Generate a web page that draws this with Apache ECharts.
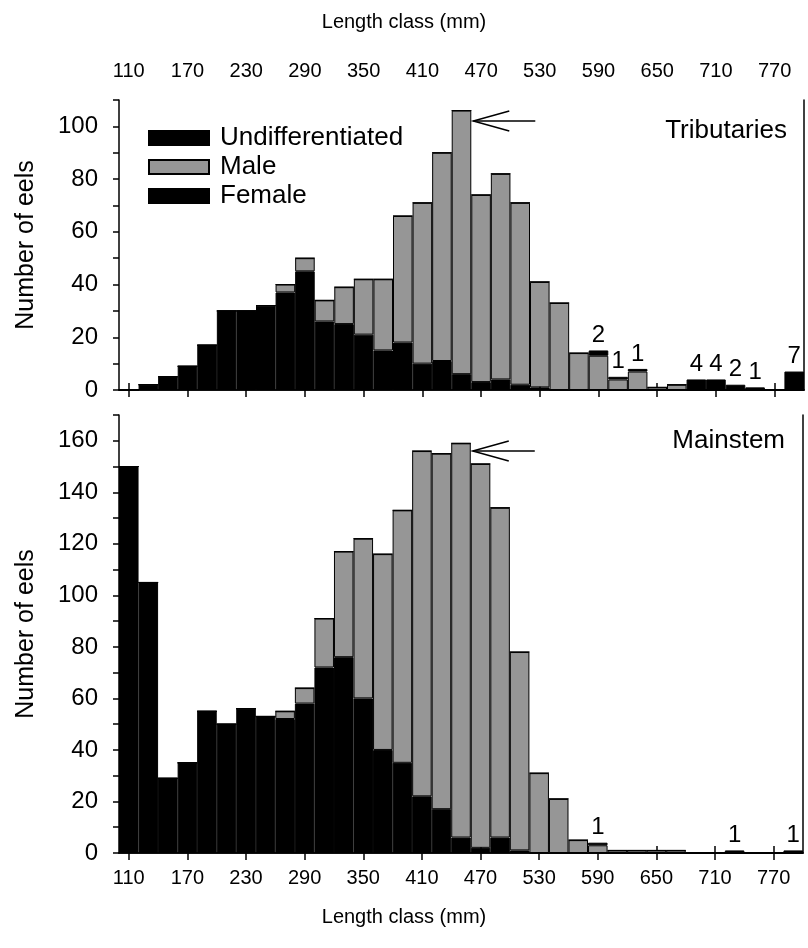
<!DOCTYPE html>
<html>
<head>
<meta charset="utf-8">
<script src="https://cdn.jsdelivr.net/npm/echarts@6/dist/echarts.min.js"></script>
<style>html,body{margin:0;padding:0;background:#fff}#c{width:808px;height:948px}</style>
</head>
<body>
<div id="c"></div>
<script>
const lengthClasses = ['110','130','150','170','190','210','230','250','270','290','310','330','350','370','390','410','430','450','470','490','510','530','550','570','590','610','630','650','670','690','710','730','750','770','790'];
const tribUndiff = [0,2,5,9,17,30,30,32,37,45,26,25,21,15,18,10,11,6,3,4,2,1,0,0,0,0,0,0,0,0,0,0,0,0,0];
const tribMale   = [0,0,0,0,0,0,0,0,3,5,8,14,21,27,48,61,79,100,71,78,69,40,33,14,13,4,7,1,2,0,0,0,0,0,0];
const tribFemale = [0,0,0,0,0,0,0,0,0,0,0,0,0,0,0,0,0,0,0,0,0,0,0,0,2,1,1,0,0,4,4,2,1,0,7];
const mainUndiff = [150,105,29,35,55,50,56,53,52,58,72,76,60,40,35,22,17,6,2,6,1,0,0,0,0,0,0,0,0,0,0,0,0,0,0];
const mainMale   = [0,0,0,0,0,0,0,0,3,6,19,41,62,76,98,134,138,153,149,128,77,31,21,5,3,1,1,1,1,0,0,0,0,0,0];
const mainFemale = [0,0,0,0,0,0,0,0,0,0,0,0,0,0,0,0,0,0,0,0,0,0,0,0,1,0,0,0,0,0,0,1,0,0,1];
const seriesNames = ['Undifferentiated','Male','Female'];
const panelNames = ['Tributaries','Mainstem'];
const xTitle = 'Length class (mm)';
const yTitle = 'Number of eels';
const labelFrom = 24; // first class (590) whose female count is written

const FONT = 'Liberation Sans, Arial, sans-serif';
const chart = echarts.init(document.getElementById('c'), null, {renderer:'canvas'});

function xAx(grid, pos, showLabel){
  return {
    type:'category', gridIndex:grid, position:pos, data:lengthClasses,
    boundaryGap:true,
    axisLine:{show:true, lineStyle:{color:'#000', width:1.5}},
    axisTick:{show:true, inside:false, alignWithLabel:true, interval:2, length:7, lineStyle:{color:'#000', width:1.5}},
    axisLabel:{show:showLabel, interval:2, color:'#000', fontFamily:FONT, fontSize:20, margin: pos==='top'?19:15},
    splitLine:{show:false}
  };
}
function yAx(grid, max, name){
  return {
    type:'value', gridIndex:grid, min:0, max:max, interval:10, position:'left',
    name:name, nameLocation:'middle', nameGap:80, nameRotate:90,
    nameTextStyle:{color:'#000', fontFamily:FONT, fontSize:25},
    axisLine:{show:true, lineStyle:{color:'#000', width:1.5}},
    axisTick:{show:true, length:6, lineStyle:{color:'#000', width:1.5}},
    axisLabel:{color:'#000', fontFamily:FONT, fontSize:24, margin:21, formatter:v => (v % 20 === 0 ? String(v) : '')},
    splitLine:{show:false}
  };
}
function yRight(grid, max){
  return {
    type:'value', gridIndex:grid, min:0, max:max, interval:10, position:'right',
    axisLine:{show:true, lineStyle:{color:'#000', width:1.5}},
    axisTick:{show:false}, axisLabel:{show:false}, splitLine:{show:false}
  };
}
function bars(name, data, xi, yi, color, stack, withLabel){
  const s = {
    name:name, type:'bar', stack:stack, data:data, xAxisIndex:xi, yAxisIndex:yi,
    barCategoryGap:'0%',
    itemStyle:{color:color, borderColor:'#000', borderWidth:1},
    emphasis:{disabled:true},
    animation:false
  };
  if (withLabel) {
    s.label = {show:true, position:'top', distance:3, color:'#000', fontFamily:FONT, fontSize:24,
      formatter:p => (p.dataIndex >= labelFrom && p.value > 0) ? String(p.value) : ''};
  }
  return s;
}

const option = {
  backgroundColor:'#fff',
  animation:false,
  grid:[
    {left:119, right:4, top:100, height:290},
    {left:119, right:5, top:415, height:438}
  ],
  xAxis:[ xAx(0,'top',true), xAx(0,'bottom',false), xAx(1,'top',false), xAx(1,'bottom',true) ],
  yAxis:[ yAx(0,110,yTitle), yRight(0,110), yAx(1,170,yTitle), yRight(1,170) ],
  legend:{
    data:seriesNames, orient:'vertical', left:143, top:119, itemWidth:60, itemHeight:14, itemGap:1,
    icon:'rect', selectedMode:false,
    textStyle:{color:'#000', fontFamily:FONT, fontSize:26, lineHeight:28, padding:[0,0,0,6]}
  },
  series:[
    bars(seriesNames[0], tribUndiff, 1, 0, '#000', 't', false),
    bars(seriesNames[1], tribMale, 1, 0, '#969696', 't', false),
    bars(seriesNames[2], tribFemale, 1, 0, '#000', 't', true),
    bars(seriesNames[0], mainUndiff, 3, 2, '#000', 'm', false),
    bars(seriesNames[1], mainMale, 3, 2, '#969696', 'm', false),
    bars(seriesNames[2], mainFemale, 3, 2, '#000', 'm', true)
  ],
  graphic:[
    {type:'text', left:'center', top:12, style:{text:xTitle, fill:'#000', font:'20px ' + FONT}},
    {type:'text', left:'center', top:907, style:{text:xTitle, fill:'#000', font:'20px ' + FONT}},
    {type:'text', right:21, top:118, style:{text:panelNames[0], fill:'#000', font:'26px ' + FONT}},
    {type:'text', right:23, top:428, style:{text:panelNames[1], fill:'#000', font:'26px ' + FONT}}
  ]
};
chart.setOption(option);

function arrow(xi, yi, idx, val){
  const p = chart.convertToPixel({xAxisIndex:xi, yAxisIndex:yi}, [idx, val]);
  const p2 = chart.convertToPixel({xAxisIndex:xi, yAxisIndex:yi}, [idx + 1, val]);
  const bw = p2[0] - p[0];
  const tx = p[0] + bw / 2 + 2, ty = p[1];
  return [
    {type:'line', shape:{x1:tx, y1:ty, x2:tx + 62, y2:ty}, style:{stroke:'#000', lineWidth:1.5}},
    {type:'polyline', shape:{points:[[tx + 36, ty - 10], [tx, ty], [tx + 36, ty + 10]]}, style:{stroke:'#000', fill:null, lineWidth:1.5}}
  ];
}
const peakTop = tribMale.map((m,i)=>m + tribUndiff[i] + tribFemale[i]);
const peakMain = mainMale.map((m,i)=>m + mainUndiff[i] + mainFemale[i]);
const iTop = peakTop.indexOf(Math.max(...peakTop));
const iMain = peakMain.indexOf(Math.max(...peakMain));
const g = option.graphic.concat(arrow(1, 0, iTop, peakTop[iTop] - 4), arrow(3, 2, iMain, peakMain[iMain] - 3));
chart.setOption({graphic:g}, {replaceMerge:['graphic']});
</script>
</body>
</html>
